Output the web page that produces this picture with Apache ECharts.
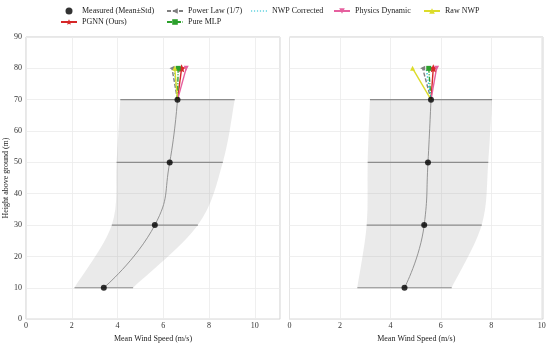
<!DOCTYPE html>
<html><head><meta charset="utf-8">
<script src="https://cdn.jsdelivr.net/npm/echarts@6/dist/echarts.min.js"></script>
<style>html,body{margin:0;padding:0;background:#fff}#c{width:550px;height:348px}</style>
</head><body><div id="c"></div>
<script>
// ---- data ----
const heights = [10, 30, 50, 70];
const predHeight = 80;
const leftMean = [3.40, 5.63, 6.28, 6.62];
const leftStd = [1.28, 1.88, 2.32, 2.50];
const rightMean = [4.56, 5.34, 5.49, 5.61];
const rightStd = [1.87, 2.28, 2.39, 2.42];
const methods = ['PGNN (Ours)', 'Power Law (1/7)', 'Pure MLP', 'NWP Corrected', 'Physics Dynamic', 'Raw NWP'];
const leftPred80 = [6.80, 6.38, 6.65, 6.48, 7.00, 6.50];
const rightPred80 = [5.70, 5.28, 5.52, 5.42, 5.83, 4.88];
const xTicks = [0, 2, 4, 6, 8, 10];
const yTicks = [0, 10, 20, 30, 40, 50, 60, 70, 80, 90];

// ---- styles ----
const FONT = "'Liberation Serif','DejaVu Serif',serif";
const STAR = 'path://M0,-10 L2.94,-4.05 9.51,-3.09 4.76,1.55 5.88,8.09 0,5 -5.88,8.09 -4.76,1.55 -9.51,-3.09 -2.94,-4.05Z';
const DOTTED_ICON = 'path://M0,0h1.2v1.2h-1.2z M3,0h1.2v1.2h-1.2z M6,0h1.2v1.2h-1.2z M9,0h1.2v1.2h-1.2z M12,0h1.2v1.2h-1.2z M15,0h1.2v1.2h-1.2z';
const mStyle = {
  'PGNN (Ours)': {color: '#d62728', type: 'solid', symbol: STAR, size: 8, rot: 0},
  'Power Law (1/7)': {color: '#7f7f7f', type: [4, 2], symbol: 'triangle', size: 5, rot: 90},
  'Pure MLP': {color: '#2ca02c', type: [5, 1.5, 1, 1.5], symbol: 'rect', size: 5, rot: 0},
  'NWP Corrected': {color: '#17becf', type: [1.2, 2], symbol: 'none', size: 0, rot: 0},
  'Physics Dynamic': {color: '#e6609f', type: 'solid', symbol: 'triangle', size: 5, rot: 180},
  'Raw NWP': {color: '#dcdc2a', type: 'solid', symbol: 'triangle', size: 5, rot: 0}
};

function smoothD(pts, start) {
  let d = start ? 'M' + pts[0][0] + ',' + pts[0][1] : 'L' + pts[0][0] + ',' + pts[0][1];
  for (let i = 0; i < pts.length - 1; i++) {
    const p0 = pts[i - 1] || pts[i], p1 = pts[i], p2 = pts[i + 1], p3 = pts[i + 2] || pts[i + 1];
    const c1 = [p1[0] + (p2[0] - p0[0]) / 6, p1[1] + (p2[1] - p0[1]) / 6];
    const c2 = [p2[0] - (p3[0] - p1[0]) / 6, p2[1] - (p3[1] - p1[1]) / 6];
    d += ' C' + c1[0] + ',' + c1[1] + ' ' + c2[0] + ',' + c2[1] + ' ' + p2[0] + ',' + p2[1];
  }
  return d;
}

function panelSeries(idx, mean, std, pred) {
  const s = [];
  s.push({
    type: 'custom', xAxisIndex: idx, yAxisIndex: idx, z: 1, silent: true,
    data: [[0]],
    renderItem: function (params, api) {
      const lo = heights.map((h, i) => api.coord([mean[i] - std[i], h]));
      const hi = heights.map((h, i) => api.coord([mean[i] + std[i], h])).reverse();
      const d = smoothD(lo, true) + ' ' + smoothD(hi, false) + ' Z';
      return {type: 'path', shape: {pathData: d}, style: {fill: 'rgba(150,150,150,0.2)', stroke: null}};
    }
  });
  s.push({
    type: 'custom', xAxisIndex: idx, yAxisIndex: idx, z: 2, silent: true,
    data: heights.map((h, i) => [mean[i] - std[i], mean[i] + std[i], h]),
    renderItem: function (params, api) {
      const a = api.coord([api.value(0), api.value(2)]);
      const b = api.coord([api.value(1), api.value(2)]);
      return {type: 'line', shape: {x1: a[0], y1: a[1], x2: b[0], y2: b[1]}, style: {stroke: '#8c8c8c', lineWidth: 1.2}};
    }
  });
  s.push({
    type: 'line', xAxisIndex: idx, yAxisIndex: idx, z: 3, smooth: true, symbol: 'none', silent: true,
    data: heights.map((h, i) => [mean[i], h]),
    lineStyle: {color: '#8a8a8a', width: 0.9}
  });
  methods.forEach((m, k) => {
    const st = mStyle[m];
    s.push({
      name: m, type: 'line', xAxisIndex: idx, yAxisIndex: idx, z: 4,
      symbol: st.symbol, symbolSize: st.size, symbolRotate: st.rot,
      data: [{value: [mean[3], heights[3]], symbol: 'none'}, {value: [pred[k], predHeight]}],
      lineStyle: {color: st.color, width: 1.4, type: st.type},
      itemStyle: {color: st.color}
    });
  });
  s.push({
    name: 'Measured (Mean±Std)', type: 'scatter', xAxisIndex: idx, yAxisIndex: idx, z: 6,
    symbol: 'circle', symbolSize: 6,
    data: heights.map((h, i) => [mean[i], h]),
    itemStyle: {color: '#000'}
  });
  return s;
}

function xAxis(idx, max) {
  return {
    gridIndex: idx, type: 'value', min: 0, max: max, interval: 2,
    axisLine: {show: false}, axisTick: {show: false},
    splitLine: {lineStyle: {color: '#ebebeb', width: 0.8}},
    axisLabel: {fontFamily: FONT, fontSize: 8, color: '#333', margin: 3,
      formatter: v => (xTicks.indexOf(Math.round(v * 1000) / 1000) >= 0 ? String(v) : '')},
    name: 'Mean Wind Speed (m/s)', nameLocation: 'middle', nameGap: 12,
    nameTextStyle: {fontFamily: FONT, fontSize: 8, color: '#222'}
  };
}
function yAxis(idx, labels) {
  return {
    gridIndex: idx, type: 'value', min: 0, max: 90, interval: 10,
    axisLine: {show: false}, axisTick: {show: false},
    splitLine: {lineStyle: {color: '#ebebeb', width: 0.8}},
    axisLabel: {show: labels, fontFamily: FONT, fontSize: 8, color: '#333', margin: 4,
      formatter: v => (yTicks.indexOf(v) >= 0 ? String(v) : '')},
    name: labels ? 'Height above ground (m)' : '', nameLocation: 'middle', nameGap: 12,
    nameTextStyle: {fontFamily: FONT, fontSize: 8, color: '#222'}
  };
}

const legendBase = {
  orient: 'vertical', top: 6, itemWidth: 16, itemHeight: 7, itemGap: 1, padding: 0,
  selectedMode: false,
  textStyle: {fontFamily: FONT, fontSize: 8, color: '#222', lineHeight: 10}
};

const option = {
  animation: false,
  backgroundColor: '#fff',
  legend: [
    Object.assign({}, legendBase, {left: 60, data: ['Measured (Mean±Std)', 'PGNN (Ours)']}),
    Object.assign({}, legendBase, {left: 166, data: ['Power Law (1/7)', 'Pure MLP']}),
    Object.assign({}, legendBase, {left: 251, data: [{name: 'NWP Corrected', icon: DOTTED_ICON}]}),
    Object.assign({}, legendBase, {left: 333, data: ['Physics Dynamic']}),
    Object.assign({}, legendBase, {left: 423, data: ['Raw NWP']})
  ],
  grid: [
    {left: 26, top: 37, width: 254, height: 286, show: true, borderColor: '#cfcfcf', borderWidth: 1},
    {left: 289.5, top: 37, width: 253.5, height: 286, show: true, borderColor: '#cfcfcf', borderWidth: 1}
  ],
  xAxis: [xAxis(0, 11.1), xAxis(1, 10.05)],
  yAxis: [yAxis(0, true), yAxis(1, false)],
  series: panelSeries(0, leftMean, leftStd, leftPred80).concat(panelSeries(1, rightMean, rightStd, rightPred80))
};

const chart = echarts.init(document.getElementById('c'), null, {renderer: 'canvas'});
chart.setOption(option);
</script>
</body></html>
